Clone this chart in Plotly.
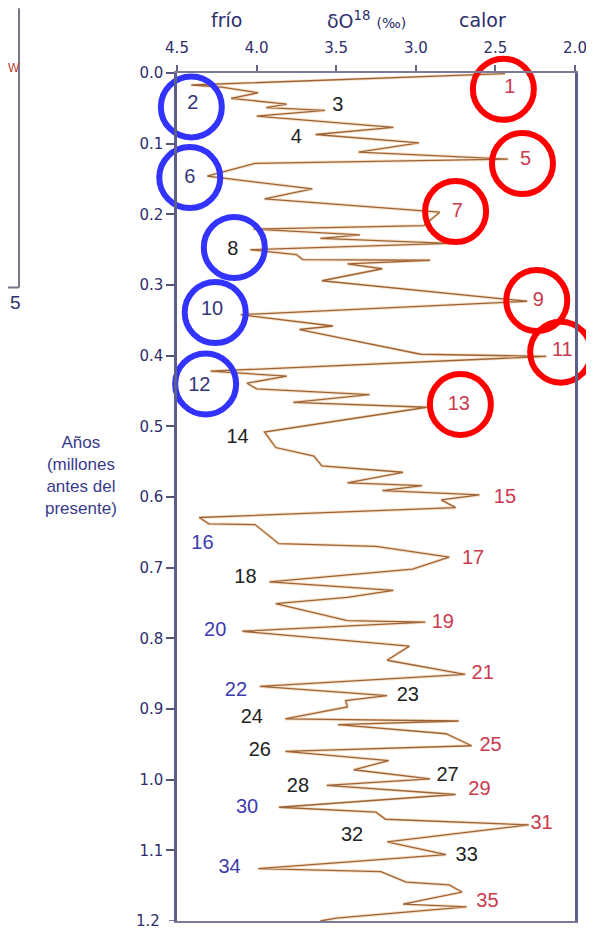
import plotly.graph_objects as go

# --- data: delta O18 record (per mil) vs age (million years before present)
age = [0.001, 0.017, 0.020, 0.028, 0.036, 0.044, 0.049, 0.053, 0.061, 0.077,
       0.087, 0.099, 0.112, 0.122, 0.128, 0.146, 0.164, 0.178, 0.197, 0.216,
       0.221, 0.229, 0.234, 0.241, 0.250, 0.257, 0.264, 0.265, 0.270, 0.277,
       0.294, 0.323, 0.342, 0.358, 0.363, 0.398, 0.401, 0.422, 0.429, 0.439,
       0.447, 0.455, 0.466, 0.473, 0.508, 0.530, 0.542, 0.556, 0.565, 0.580,
       0.584, 0.591, 0.597, 0.604, 0.615, 0.629, 0.638, 0.639, 0.666, 0.670,
       0.685, 0.702, 0.720, 0.732, 0.742, 0.751, 0.775, 0.777, 0.790, 0.811,
       0.831, 0.851, 0.868, 0.881, 0.888, 0.897, 0.914, 0.917, 0.922, 0.935,
       0.952, 0.960, 0.973, 0.986, 0.999, 1.008, 1.021, 1.039, 1.046, 1.056,
       1.064, 1.088, 1.106, 1.126, 1.130, 1.145, 1.149, 1.159, 1.176, 1.180,
       1.196, 1.200]
d18o = [2.44, 4.41, 4.22, 3.99, 4.16, 3.81, 3.94, 3.57, 4.00, 3.14,
        3.63, 2.98, 3.36, 2.42, 4.01, 4.31, 3.65, 3.95, 2.85, 2.95,
        4.02, 3.35, 3.60, 2.79, 4.04, 3.75, 3.71, 2.91, 3.43, 3.21,
        3.59, 2.30, 4.10, 3.52, 3.73, 2.97, 2.18, 4.29, 3.81, 4.06,
        4.00, 3.29, 3.77, 2.93, 3.95, 3.88, 3.64, 3.59, 3.08, 3.43,
        2.96, 3.21, 2.60, 2.84, 2.75, 4.36, 4.30, 4.01, 3.86, 3.25,
        2.79, 3.02, 3.92, 3.14, 3.43, 3.88, 3.43, 2.94, 4.09, 3.04,
        3.18, 2.69, 3.98, 3.18, 3.44, 3.43, 3.82, 2.73, 3.49, 2.81,
        2.65, 3.82, 3.17, 3.39, 2.91, 3.56, 2.75, 3.86, 3.25, 3.19,
        2.29, 3.18, 2.81, 3.99, 3.22, 3.06, 2.79, 2.71, 3.08, 2.68,
        3.50, 3.60]

# --- marine isotope stage labels
stage_labels = [str(i) for i in range(1, 36)]
stage_x = [2.41, 4.40, 3.49, 3.75, 2.31, 4.42, 2.74, 4.15, 2.23, 4.28,
           2.08, 4.36, 2.73, 4.12, 2.44, 4.34, 2.64, 4.07, 2.83, 4.26,
           2.58, 4.13, 3.05, 4.03, 2.53, 3.98, 2.80, 3.74, 2.60, 4.06,
           2.21, 3.40, 2.68, 4.17, 2.55]
stage_y = [0.021, 0.044, 0.047, 0.092, 0.123, 0.148, 0.196, 0.250, 0.323, 0.335,
           0.394, 0.443, 0.470, 0.517, 0.601, 0.666, 0.688, 0.714, 0.778, 0.789,
           0.850, 0.874, 0.882, 0.913, 0.953, 0.959, 0.995, 1.010, 1.015, 1.040,
           1.063, 1.080, 1.108, 1.125, 1.173]
stage_kind = ["w", "cn", "k", "k", "w", "cn", "w", "k", "w", "cn",
              "w", "cn", "w", "k", "w", "c", "w", "k", "w", "c",
              "w", "c", "k", "k", "w", "k", "k", "k", "w", "c",
              "w", "k", "k", "c", "w"]

# highlighted stages (circles)
warm_circle_x = [2.45, 2.33, 2.75, 2.24, 2.09, 2.72]
warm_circle_y = [0.023, 0.128, 0.196, 0.322, 0.395, 0.469]
cold_circle_x = [4.41, 4.42, 4.14, 4.26, 4.32]
cold_circle_y = [0.048, 0.148, 0.247, 0.339, 0.440]

x_ticks = [4.5, 4.0, 3.5, 3.0, 2.5, 2.0]
y_ticks = [0.0, 0.1, 0.2, 0.3, 0.4, 0.5, 0.6, 0.7, 0.8, 0.9, 1.0, 1.1]
y_last_tick = 1.2   # bottom tick, drawn at the very lower edge

kind_color = {"w": "#c93a4e", "c": "#3b3bb0", "cn": "#35357a", "k": "#222222"}
FONT = "Liberation Sans, Arial, sans-serif"
WIDE = "DejaVu Sans, Verdana, sans-serif"
NAVY = "#2e2e6c"

# page offset (browser body margin) and plot-area box in page pixels
OFF = 8
W, H = 594 - OFF, 928 - OFF
PL, PR, PT, PB = 177, 575, 73, 923
Y_MAX = 1.2


def px(xp):
    return (xp - PL) / (PR - PL)


def py(yp):
    return (PB - yp) / (PB - PT)


fig = go.Figure()

fig.add_trace(go.Scatter(
    x=d18o, y=age, mode="lines",
    line=dict(color="#f2c79a", width=3.2), opacity=0.55,
    hoverinfo="skip", showlegend=False, cliponaxis=True))
fig.add_trace(go.Scatter(
    x=d18o, y=age, mode="lines",
    line=dict(color="#9c6438", width=1.3),
    showlegend=False, cliponaxis=True))

fig.add_trace(go.Scatter(
    x=stage_x, y=stage_y, mode="text", text=stage_labels,
    textfont=dict(family=FONT, size=20, color=[kind_color[k] for k in stage_kind]),
    showlegend=False, cliponaxis=False, hoverinfo="skip"))

fig.add_trace(go.Scatter(
    x=warm_circle_x, y=warm_circle_y, mode="markers",
    marker=dict(symbol="circle-open", size=61, color="#ff0000",
                line=dict(width=6, color="#ff0000")),
    showlegend=False, cliponaxis=False, hoverinfo="skip"))
fig.add_trace(go.Scatter(
    x=cold_circle_x, y=cold_circle_y, mode="markers",
    marker=dict(symbol="circle-open", size=61, color="#3333ff",
                line=dict(width=6, color="#3333ff")),
    showlegend=False, cliponaxis=False, hoverinfo="skip"))

fig.update_xaxes(
    range=[4.5, 2.0], side="top", tickvals=x_ticks,
    ticktext=[f"{v:.1f}" for v in x_ticks],
    ticks="outside", ticklen=6, tickwidth=1.5, tickcolor="#666688",
    ticklabelstandoff=6,
    tickfont=dict(family=WIDE, size=15, color=NAVY),
    showline=True, linecolor="#7a7a9a", linewidth=2, mirror=True,
    showgrid=False, zeroline=False)
fig.update_yaxes(
    range=[Y_MAX, 0.0], tickvals=y_ticks,
    ticktext=[f"{v:.1f}" for v in y_ticks],
    ticks="outside", ticklen=8, tickwidth=1.5, tickcolor="#555577",
    tickfont=dict(family=WIDE, size=15, color=NAVY),
    showline=True, linecolor="#5e5e8a", linewidth=2.5, mirror=True,
    showgrid=False, zeroline=False)

anns = []
for text, xp, yp in [("frío", 226, 20),
                     ("δO<sup>18</sup> <span style='font-size:14px'>(‰)</span>", 366, 20),
                     ("calor", 482, 20)]:
    anns.append(dict(text=text, xref="paper", yref="paper",
                     x=px(xp), y=py(yp), showarrow=False,
                     xanchor="center", yanchor="middle",
                     font=dict(family=WIDE, size=19, color=NAVY)))
anns.append(dict(text="Años<br>(millones<br>antes del<br>presente)",
                 xref="paper", yref="paper", x=px(81), y=py(476),
                 showarrow=False, xanchor="center", yanchor="middle", align="center",
                 font=dict(family=FONT, size=17, color="#3a3a8c")))
# bottom tick label of the age axis (sits on the lower edge of the picture)
anns.append(dict(text=f"{y_last_tick:.1f}", xref="paper", yref="y",
                 x=px(162), y=y_last_tick, showarrow=False,
                 xanchor="right", yanchor="middle",
                 font=dict(family=WIDE, size=15, color=NAVY)))
# fragment of the neighbouring figure at the left edge
anns.append(dict(text="5", xref="paper", yref="paper", x=px(15), y=py(303),
                 showarrow=False, xanchor="center", yanchor="middle",
                 font=dict(family=FONT, size=19, color=NAVY)))
anns.append(dict(text="W", xref="paper", yref="paper", x=px(14), y=py(68),
                 showarrow=False, xanchor="center", yanchor="middle",
                 font=dict(family=FONT, size=12, color="#b83a30")))

shapes = [
    dict(type="line", xref="paper", yref="y",
         x0=px(169), x1=px(177), y0=y_last_tick, y1=y_last_tick,
         line=dict(color="#555577", width=1.5)),
    dict(type="line", xref="paper", yref="paper",
         x0=px(19), x1=px(19), y0=py(OFF), y1=py(288),
         line=dict(color="#777788", width=2)),
    dict(type="line", xref="paper", yref="paper",
         x0=px(OFF), x1=px(19), y0=py(288), y1=py(288),
         line=dict(color="#777788", width=2)),
]

fig.update_layout(
    width=W, height=H,
    margin=dict(l=PL - OFF, r=W - (PR - OFF), t=PT - OFF, b=H - (PB - OFF)),
    paper_bgcolor="white", plot_bgcolor="white",
    annotations=anns, shapes=shapes,
    font=dict(family=FONT),
)

fig.write_html("out.html")
